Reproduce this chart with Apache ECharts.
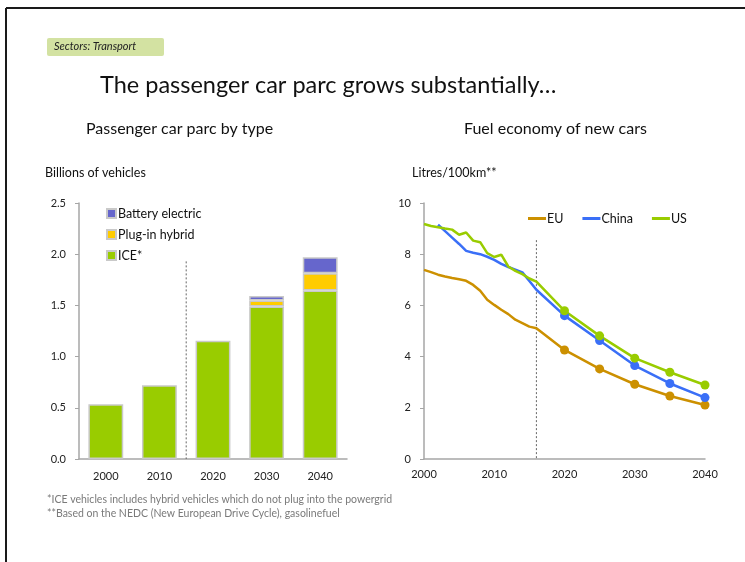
<!DOCTYPE html>
<html>
<head>
<meta charset="utf-8">
<script src="https://cdn.jsdelivr.net/npm/echarts@6/dist/echarts.min.js"></script>
<style>
  html, body { margin: 0; padding: 0; background: #fff; }
  #chart { width: 745px; height: 562px; }
</style>
</head>
<body>
<div id="chart"></div>
<script>
// Passenger car parc by type (billions of vehicles)
const parcYears = ['2000', '2010', '2020', '2030', '2040'];
const iceValues = [0.535, 0.72, 1.155, 1.49, 1.645];
const phevValues = [0, 0, 0, 0.057, 0.17];
const bevValues = [0, 0, 0, 0.046, 0.155];
const parcTicks = [0, 0.5, 1.0, 1.5, 2.0, 2.5];

// Fuel economy of new cars (litres / 100 km)
const histYears = [2000, 2001, 2002, 2003, 2004, 2005, 2006, 2007, 2008, 2009, 2010, 2011, 2012, 2013, 2014, 2015, 2016];
const euHist = [7.39, 7.3, 7.2, 7.13, 7.07, 7.02, 6.96, 6.8, 6.57, 6.22, 6.02, 5.83, 5.66, 5.44, 5.31, 5.17, 5.11];
const chinaHist = [null, null, 9.15, 8.9, 8.65, 8.4, 8.13, 8.06, 8.0, 7.9, 7.78, 7.62, 7.5, 7.4, 7.29, 6.95, 6.61];
const usHist = [9.18, 9.1, 9.05, 9.0, 8.96, 8.76, 8.85, 8.53, 8.47, 8.04, 7.89, 7.98, 7.52, 7.35, 7.22, 7.05, 6.93];
const projYears = [2020, 2025, 2030, 2035, 2040];
const euProj = [4.26, 3.52, 2.92, 2.46, 2.11];
const chinaProj = [5.6, 4.63, 3.65, 2.95, 2.4];
const usProj = [5.79, 4.81, 3.94, 3.39, 2.89];
const baseYear = 2016;

const FONT = 'Lato';
const axisGrey = '#a6a6a6';

function pairs(years, vals) {
  const out = [];
  years.forEach((y, i) => { if (vals[i] !== null) out.push([y, vals[i]]); });
  return out;
}
function econSeries(name, color, hist, proj) {
  const histPts = pairs(histYears, hist);
  const projPts = pairs(projYears, proj).map(p => ({ value: p, symbolSize: 9 }));
  return {
    name: name, type: 'line', xAxisIndex: 2, yAxisIndex: 1,
    data: histPts.concat(projPts),
    symbol: 'circle', symbolSize: 0, showSymbol: true,
    lineStyle: { color: color, width: 2.5 },
    itemStyle: { color: color },
    emphasis: { disabled: true },
    animation: false
  };
}
// empty segments are left out so they draw no outline
const segment = vals => vals.map(v => (v === 0 ? '-' : v));

const chart = echarts.init(document.getElementById('chart'), null, { renderer: 'canvas' });

const barCommon = {
  type: 'bar', stack: 'parc', xAxisIndex: 0, yAxisIndex: 0,
  barCategoryGap: '35%',
  emphasis: { disabled: true }
};

function label(text, left, top, size, extra) {
  return Object.assign({
    text: text, left: left, top: top, padding: 0,
    textStyle: Object.assign({ fontFamily: FONT, fontSize: size, fontWeight: 'normal', color: '#111' }, extra || {})
  });
}

const option = {
  animation: false,
  textStyle: { fontFamily: FONT },
  title: [
    label('Sectors: Transport', 54, 41, 11, { fontStyle: 'italic', color: '#222' }),
    label('The passenger car parc grows substantially…', 100, 73, 23.5),
    label('Passenger car parc by type', 86, 121, 16),
    label('Fuel economy of new cars', 464, 121, 16),
    label('Billions of vehicles', 45, 166, 12.5),
    label('Litres/100km**', 412, 166, 12.5)
  ],
  graphic: [
    { type: 'line', shape: { x1: 6, y1: 8, x2: 745, y2: 8 }, style: { stroke: '#1a1a1a', lineWidth: 2 } },
    { type: 'line', shape: { x1: 6, y1: 8, x2: 6, y2: 562 }, style: { stroke: '#1a1a1a', lineWidth: 2 } },
    { type: 'rect', z: -1, shape: { x: 47, y: 38, width: 117, height: 18, r: 2 }, style: { fill: '#d3e2a2' } },
    { type: 'text', left: 47, top: 494,
      style: { text: '*ICE vehicles includes hybrid vehicles which do not plug into the powergrid', fill: '#7a7a7a', font: '10.5px Lato' } },
    { type: 'text', left: 47, top: 508,
      style: { text: '**Based on the NEDC (New European Drive Cycle), gasolinefuel', fill: '#7a7a7a', font: '10.5px Lato' } }
  ],
  legend: [
    {
      data: ['Battery electric', 'Plug-in hybrid', 'ICE*'],
      orient: 'vertical', left: 106, top: 207, itemGap: 8, padding: 0,
      itemWidth: 9, itemHeight: 9, icon: 'rect',
      textStyle: { fontFamily: FONT, fontSize: 12.5, color: '#111', padding: [0, 0, 0, -3] },
      selectedMode: false
    },
    {
      data: ['EU', 'China', 'US'],
      orient: 'horizontal', left: 528, top: 212, itemGap: 19, padding: 0,
      itemWidth: 18, itemHeight: 3, icon: 'rect',
      textStyle: { fontFamily: FONT, fontSize: 12.5, color: '#111', padding: [0, 0, 0, -4] },
      selectedMode: false
    }
  ],
  grid: [
    { left: 79, top: 203, width: 268, height: 256 },
    { left: 424, top: 203, width: 281, height: 256 }
  ],
  xAxis: [
    {
      type: 'category', gridIndex: 0, data: parcYears,
      axisLine: { lineStyle: { color: axisGrey, width: 1.5 } },
      axisTick: { show: false },
      axisLabel: { color: '#222', fontSize: 11, margin: 12, fontFamily: FONT }
    },
    {
      // band index scale for the divider between history and projection
      type: 'value', gridIndex: 0, min: 0, max: parcYears.length, show: false
    },
    {
      type: 'value', gridIndex: 1, min: 2000, max: 2040, interval: 10,
      axisLine: { show: true, onZero: false, lineStyle: { color: axisGrey, width: 1.5 } },
      axisTick: { show: false },
      splitLine: { show: false },
      axisLabel: { color: '#222', fontSize: 11, margin: 10, fontFamily: FONT, formatter: v => String(v) }
    }
  ],
  yAxis: [
    {
      type: 'value', gridIndex: 0, min: parcTicks[0], max: parcTicks[parcTicks.length - 1], interval: 0.5,
      axisLine: { show: true, lineStyle: { color: axisGrey, width: 1.5 } },
      axisTick: { show: true, length: 4, lineStyle: { color: axisGrey } },
      splitLine: { show: false },
      axisLabel: { color: '#222', fontSize: 11, margin: 13, fontFamily: FONT, formatter: v => v.toFixed(1) }
    },
    {
      type: 'value', gridIndex: 1, min: 0, max: 10, interval: 2,
      axisLine: { show: true, lineStyle: { color: axisGrey, width: 1.5 } },
      axisTick: { show: true, length: 4, lineStyle: { color: axisGrey } },
      splitLine: { show: false },
      axisLabel: { color: '#222', fontSize: 11, margin: 13, fontFamily: FONT }
    }
  ],
  series: [
    Object.assign({}, barCommon, {
      name: 'ICE*', data: segment(iceValues),
      itemStyle: { color: '#99cc00', borderColor: '#c9c9c9', borderWidth: 1.5 }
    }),
    Object.assign({}, barCommon, {
      name: 'Plug-in hybrid', data: segment(phevValues),
      itemStyle: { color: '#ffcc00', borderColor: '#c9c9c9', borderWidth: 1.5 }
    }),
    Object.assign({}, barCommon, {
      name: 'Battery electric', data: segment(bevValues),
      itemStyle: { color: '#6666cc', borderColor: '#c9c9c9', borderWidth: 1.5 }
    }),
    {
      // dotted divider between 2010 and 2020 bars
      type: 'line', xAxisIndex: 1, yAxisIndex: 0,
      data: [[2, 1.93], [2, 0]], symbol: 'none', silent: true,
      lineStyle: { color: '#666', width: 1, type: [2, 2] }
    },
    econSeries('EU', '#cc9000', euHist, euProj),
    econSeries('China', '#3a6ff7', chinaHist, chinaProj),
    econSeries('US', '#99cc00', usHist, usProj),
    {
      // dotted marker at the last historical year
      type: 'line', xAxisIndex: 2, yAxisIndex: 1,
      data: [[baseYear, 8.55], [baseYear, 0]], symbol: 'none', silent: true, z: 1,
      lineStyle: { color: '#666', width: 1, type: [2, 2] }
    }
  ]
};

chart.setOption(option);
</script>
</body>
</html>
